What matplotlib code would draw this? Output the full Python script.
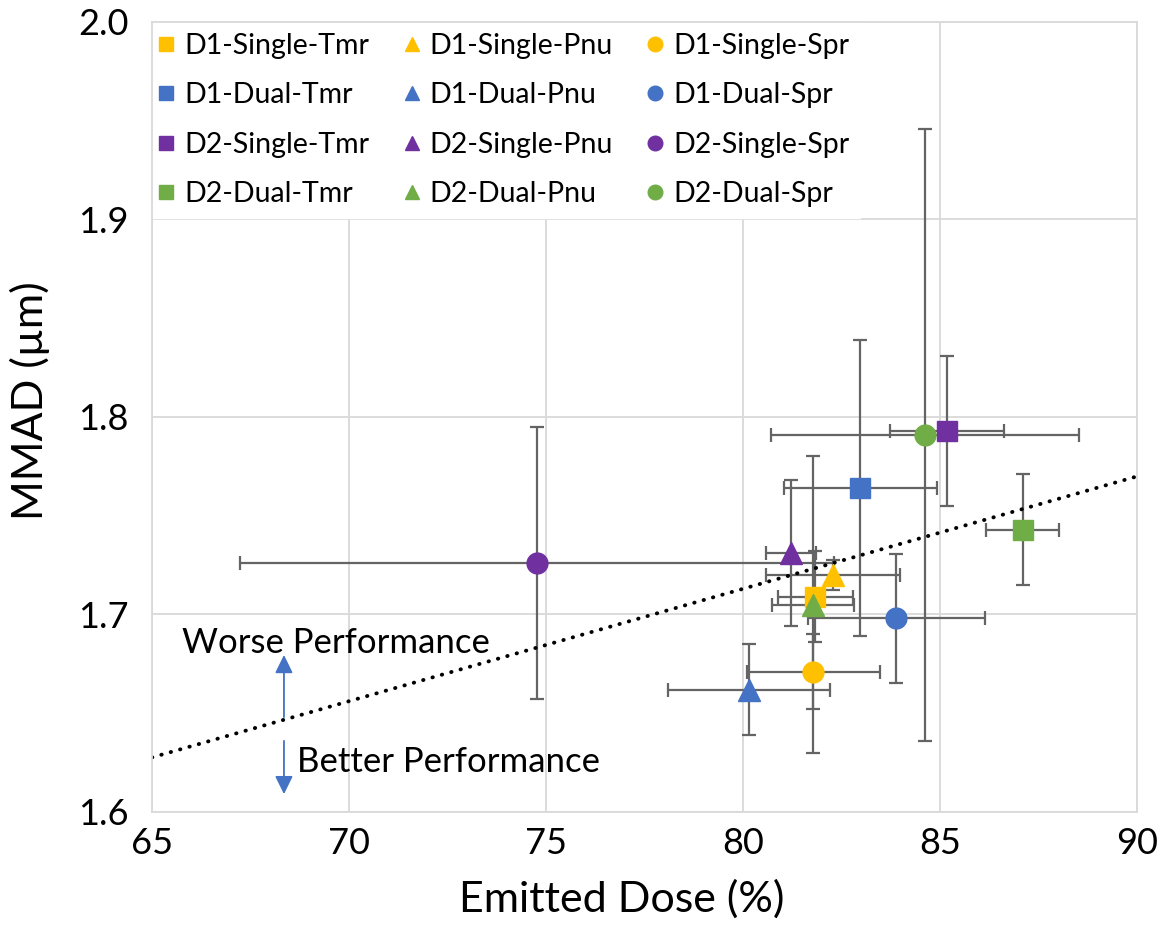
import matplotlib.pyplot as plt
import numpy as np
from matplotlib.lines import Line2D

plt.rcParams['font.family'] = ['Lato', 'DejaVu Sans']

# series
labels = ['D1-Single-Tmr', 'D1-Single-Pnu', 'D1-Single-Spr',
          'D1-Dual-Tmr', 'D1-Dual-Pnu', 'D1-Dual-Spr',
          'D2-Single-Tmr', 'D2-Single-Pnu', 'D2-Single-Spr',
          'D2-Dual-Tmr', 'D2-Dual-Pnu', 'D2-Dual-Spr']
emitted_dose = [81.83, 82.28, 81.79, 82.98, 80.15, 83.89,
                85.18, 81.22, 74.77, 87.10, 81.78, 84.62]
dose_err = [0.95, 1.70, 1.68, 1.95, 2.05, 2.25,
            1.44, 0.63, 7.53, 0.93, 1.05, 3.90]
mmad = [1.709, 1.720, 1.671, 1.764, 1.662, 1.698,
        1.793, 1.731, 1.726, 1.743, 1.705, 1.791]
mmad_err = [0.023, 0.0075, 0.019, 0.075, 0.023, 0.0325,
            0.038, 0.037, 0.069, 0.028, 0.075, 0.155]

group_colors = {'D1-Single': '#FFC000', 'D1-Dual': '#4472C4',
                'D2-Single': '#7030A0', 'D2-Dual': '#70AD47'}
device_markers = {'Tmr': 's', 'Pnu': '^', 'Spr': 'o'}

fig = plt.figure(figsize=(11.61, 9.40), dpi=100)
ax = fig.add_axes([0.1309, 0.1362, 0.8484, 0.8404])

# error bars first, markers on top
ax.errorbar(emitted_dose, mmad, xerr=dose_err, yerr=mmad_err, fmt='none',
            ecolor='#646464', elinewidth=1.6, capsize=5, capthick=1.6, zorder=2)

for lab, xv, yv in zip(labels, emitted_dose, mmad):
    grp = lab.rsplit('-', 1)[0]
    mk = device_markers[lab.rsplit('-', 1)[1]]
    ms = 16 if mk == '^' else 15
    ax.plot(xv, yv, marker=mk, ms=ms, color=group_colors[grp],
            linestyle='none', zorder=3)

# linear trend through all points
coef = np.polyfit(emitted_dose, mmad, 1)
xt = np.array([65, 90])
ax.plot(xt, np.polyval(coef, xt), color='black', lw=2.8,
        linestyle=(0, (0.1, 2.4)), dash_capstyle='round', zorder=2.5)

# performance arrows
arrow_kw = dict(arrowstyle='-|>,head_length=0.55,head_width=0.27',
                color='#4472C4', lw=1.3, shrinkA=0, shrinkB=0, mutation_scale=20)
ax.annotate('', xy=(68.35, 1.6795), xytext=(68.35, 1.648), arrowprops=arrow_kw)
ax.annotate('', xy=(68.35, 1.609), xytext=(68.35, 1.636), arrowprops=arrow_kw)
ax.text(65.76, 1.6804, 'Worse Performance', fontsize=25, va='baseline', ha='left')
ax.text(68.68, 1.6204, 'Better Performance', fontsize=25, va='baseline', ha='left')

ax.set_xlim(65, 90)
ax.set_ylim(1.6, 2.0)
ax.set_xticks([65, 70, 75, 80, 85, 90])
ax.set_yticks([1.6, 1.7, 1.8, 1.9, 2.0])
ax.set_yticklabels(['1.6', '1.7', '1.8', '1.9', '2.0'])
ax.grid(True, color='#d9d9d9', lw=1.3)
ax.set_axisbelow(True)
for s in ax.spines.values():
    s.set_color('#d9d9d9')
    s.set_linewidth(1.3)
    s.set_zorder(6)
ax.tick_params(length=0, labelsize=26, colors='black')
ax.tick_params(axis='x', pad=11)
ax.tick_params(axis='y', pad=17)

ax.set_xlabel('Emitted Dose (%)', fontsize=31)
ax.set_ylabel('MMAD (µm)', fontsize=31, va='center')
ax.xaxis.set_label_coords(0.477, -0.085)
ax.yaxis.set_label_coords(-0.124, 0.52)

# legend, filled column by column so rows read Tmr / Pnu / Spr
handles = []
hlabels = []
for dev in ['Tmr', 'Pnu', 'Spr']:
    for grp in ['D1-Single', 'D1-Dual', 'D2-Single', 'D2-Dual']:
        handles.append(Line2D([], [], marker=device_markers[dev], ms=10.5,
                              color=group_colors[grp], linestyle='none'))
        hlabels.append(grp + '-' + dev)
leg = ax.legend(handles, hlabels, ncol=3, loc='upper left', bbox_to_anchor=(-0.0079, 1.0),
                fontsize=20.5, frameon=True, facecolor='white', edgecolor='white',
                framealpha=1, fancybox=False, borderaxespad=0, borderpad=0.38,
                handlelength=0.8, handletextpad=0.22, columnspacing=1.1,
                labelspacing=0.82)
leg.set_zorder(2.4)

fig.savefig('out.png', dpi=100)
